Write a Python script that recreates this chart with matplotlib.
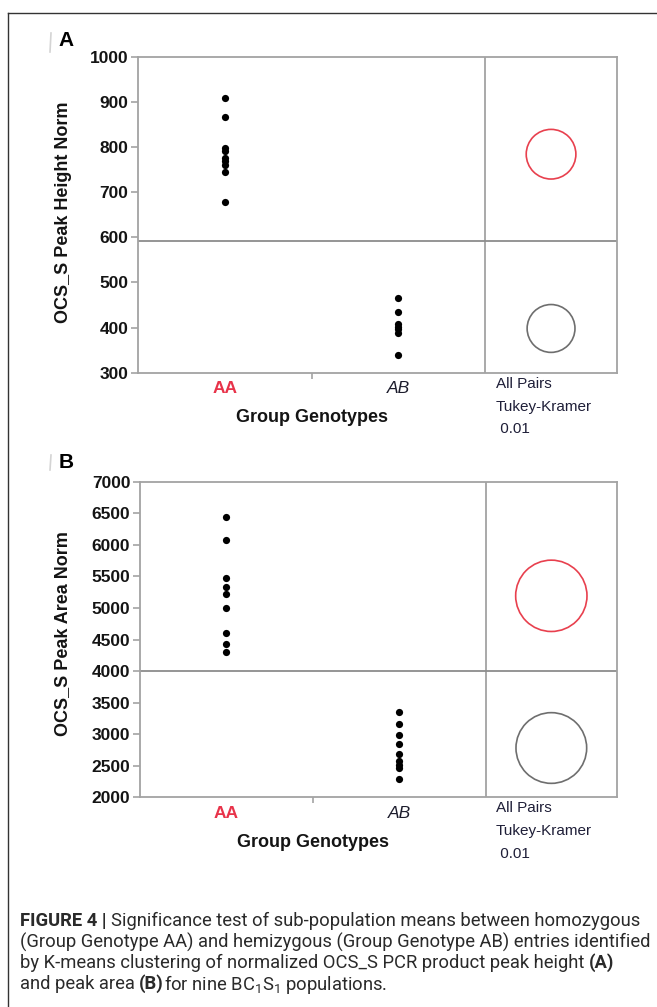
import matplotlib
matplotlib.use('Agg')
import matplotlib.pyplot as plt
from matplotlib.patches import Ellipse
from matplotlib.lines import Line2D

# Values (JMP oneway plots)
groups = ['AA', 'AB']

# Panel A: OCS_S peak height norm
height_aa = [909, 866, 797, 792, 776, 768, 761, 744, 679]
height_ab = [466, 435, 408, 402, 396, 389, 339]
height_grand_mean = 592
height_circle_means = [784, 398]
height_circle_radius = [55, 53]
height_yticks = [300, 400, 500, 600, 700, 800, 900, 1000]

# Panel B: OCS_S peak area norm
area_aa = [6436, 6076, 5470, 5337, 5216, 4994, 4608, 4424, 4307]
area_ab = [3356, 3161, 2987, 2840, 2686, 2580, 2510, 2460, 2285]
area_grand_mean = 4000
area_circle_means = [5192, 2781]
area_circle_radius = [565, 560]
area_yticks = [2000, 2500, 3000, 3500, 4000, 4500, 5000, 5500, 6000, 6500, 7000]

circle_colors = ['#e8404e', '#6e6e6e']
test_lines = ['All Pairs', 'Tukey-Kramer', ' 0.01']

W, H = 657, 1007
GRAY = '#a3a3a3'
TXT = '#141414'

fig = plt.figure(figsize=(W / 100, H / 100), dpi=100)
renderer = fig.canvas.get_renderer()


def px_rect(l, t, r, b):
    return [l / W, 1 - b / H, (r - l) / W, (b - t) / H]


def draw_panel(ax, aa, ab, grand_mean, c_means, c_rad, yticks, ylabel, label_y):
    ax.set_xlim(0, 2.76)
    ax.set_ylim(yticks[0], yticks[-1])
    for sp in ax.spines.values():
        sp.set_color(GRAY)
        sp.set_linewidth(1.3)
    ax.axvline(2, color=GRAY, lw=1.3)
    ax.axhline(grand_mean, color='#8c8c8c', lw=1.3)

    ax.scatter([0.5] * len(aa), aa, s=27, color='black', zorder=3, linewidths=0)
    ax.scatter([1.5] * len(ab), ab, s=27, color='black', zorder=3, linewidths=0)

    # comparison circles, kept round in pixel space
    p0 = ax.transData.transform((0, 0))
    p1 = ax.transData.transform((1, 1))
    ratio = (p1[1] - p0[1]) / (p1[0] - p0[0])
    for m, r, c in zip(c_means, c_rad, circle_colors):
        ax.add_patch(Ellipse((2.38, m), 2 * r * ratio, 2 * r, fill=False,
                             edgecolor=c, lw=1.2))

    ax.set_yticks(yticks)
    ax.set_yticklabels([str(v) for v in yticks], fontsize=12.5, fontweight='bold',
                       color=TXT, family='Liberation Sans')
    ax.tick_params(axis='y', length=5, width=1.2, color=GRAY, pad=2)

    ax.set_xticks([0.5, 1.5])
    ax.set_xticklabels(groups, fontsize=12.5, family='Liberation Sans')
    ax.tick_params(axis='x', length=0, pad=6)
    tl = ax.get_xticklabels()
    tl[0].set_color('#e8334a')
    tl[0].set_fontweight('bold')
    tl[1].set_style('italic')
    tl[1].set_color('#1c1c2c')
    ax.set_xticks([1.0], minor=True)
    ax.tick_params(axis='x', which='minor', length=4, width=1.2, color=GRAY)

    ax.text(1.0, -0.143, 'Group Genotypes', transform=ax.get_xaxis_transform(),
            ha='center', va='center', fontsize=13, fontweight='bold',
            color=TXT, family='Liberation Sans')

    tr = ax.get_xaxis_transform()
    for i, s in enumerate(test_lines):
        ax.text(2.06, -0.035 - 0.072 * i, s, transform=tr, ha='left', va='center',
                fontsize=11, color='#1f1f38', family='Liberation Sans')

    fig.text(63 / W, 1 - label_y / H, ylabel, rotation=90, ha='center', va='center',
             fontsize=13, fontweight='bold', color=TXT, family='Liberation Sans')


axA = fig.add_axes(px_rect(138, 56.7, 617, 372.7))
draw_panel(axA, height_aa, height_ab, height_grand_mean, height_circle_means,
           height_circle_radius, height_yticks, 'OCS_S Peak Height Norm', 212)

axB = fig.add_axes(px_rect(140, 481.7, 617, 797.3))
draw_panel(axB, area_aa, area_ab, area_grand_mean, area_circle_means,
           area_circle_radius, area_yticks, 'OCS_S Peak Area Norm', 634)

# panel letters and the faint marks beside them
fig.text(66 / W, 1 - 41 / H, 'A', ha='center', va='center', fontsize=15,
         fontweight='bold', family='Liberation Sans')
fig.text(66 / W, 1 - 463 / H, 'B', ha='center', va='center', fontsize=15,
         fontweight='bold', family='Liberation Sans')
for y0, y1 in [(33, 52), (455, 470)]:
    fig.add_artist(Line2D([50 / W, 51 / W], [1 - y1 / H, 1 - y0 / H],
                          color='#d4d4d4', lw=1.2))

# outer frame (left and top edges are visible)
fig.add_artist(Line2D([8 / W, 1.0], [1 - 13 / H, 1 - 13 / H], color='#333333', lw=1.0))
fig.add_artist(Line2D([8 / W, 8 / W], [0, 1 - 13 / H], color='#333333', lw=1.0))

# caption
cap_lines = [
    [('FIGURE 4 |', 'bold', True), ('Significance test of sub-population means between homozygous', 'normal', False)],
    [('(Group Genotype AA) and hemizygous (Group Genotype AB) entries identified', 'normal', False)],
    [('by K-means clustering of normalized OCS_S PCR product peak height', 'normal', True), ('(A)', 'bold', False)],
    [('and peak area', 'normal', True), ('(B)', 'bold', False), ('for nine BC$_1$S$_1$ populations.', 'normal', False)],
]
cap_y = [921, 942, 963, 984]
plt.rcParams['mathtext.fontset'] = 'custom'
plt.rcParams['mathtext.rm'] = 'Roboto'
plt.rcParams['mathtext.it'] = 'Roboto:italic'
plt.rcParams['mathtext.bf'] = 'Roboto:bold'

probe = fig.text(0, 0, cap_lines[1][0][0], fontsize=10, family='Roboto')
cap_size = 10 * 630 / probe.get_window_extent(renderer).width
probe.remove()
sp = fig.text(0, 0, 'a a', fontsize=cap_size, family='Roboto')
sp2 = fig.text(0, 0, 'aa', fontsize=cap_size, family='Roboto')
space_w = sp.get_window_extent(renderer).width - sp2.get_window_extent(renderer).width
sp.remove()
sp2.remove()

for runs, y in zip(cap_lines, cap_y):
    x = 20
    for s, w, gap in runs:
        t = fig.text(x / W, 1 - y / H, s, fontsize=cap_size, fontweight=w,
                     family='Roboto', color='#2a2a2a', va='center', ha='left')
        x += t.get_window_extent(renderer).width + (space_w if gap else 0)

fig.savefig('out.png', dpi=100)
